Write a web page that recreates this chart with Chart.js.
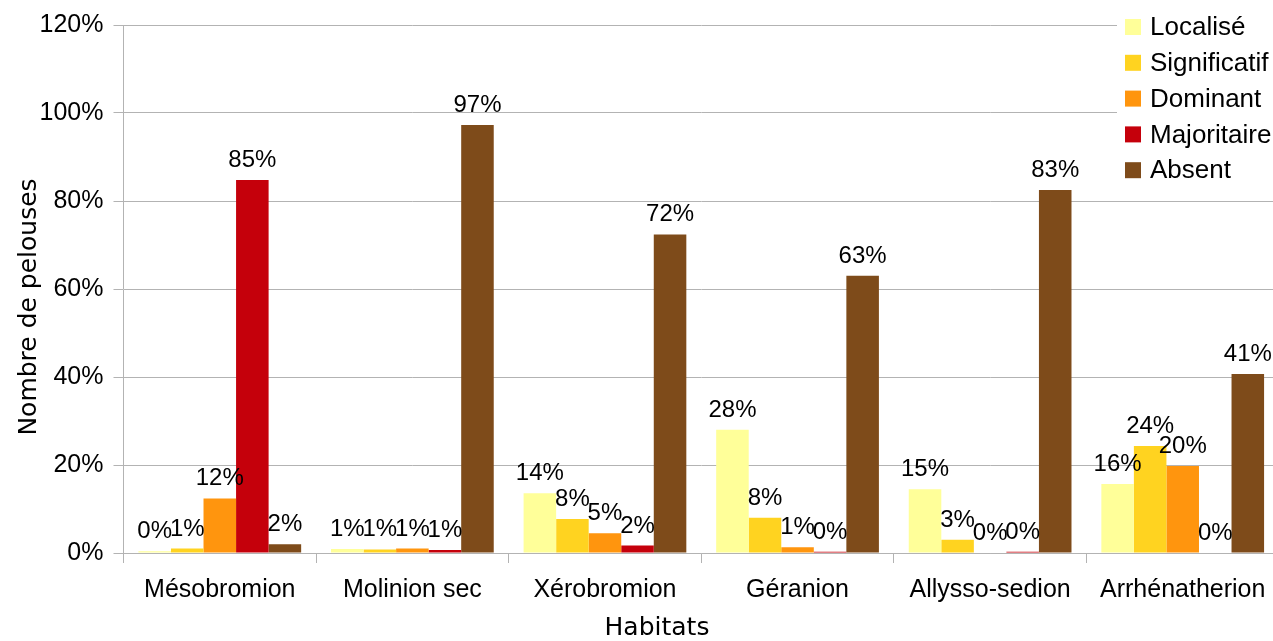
<!DOCTYPE html>
<html>
<head>
<meta charset="utf-8">
<script src="https://cdn.jsdelivr.net/npm/chart.js@4"></script>
<style>
  html, body { margin: 0; padding: 0; background: #fff; overflow: hidden; }
  #wrap { width: 1285px; height: 641px; }
</style>
</head>
<body>
<div id="wrap"><canvas id="habitatChart"></canvas></div>
<script>
const habitats = ['Mésobromion', 'Molinion sec', 'Xérobromion', 'Géranion', 'Allysso-sedion', 'Arrhénatherion'];
const seriesNames = ['Localisé', 'Significatif', 'Dominant', 'Majoritaire', 'Absent'];
const localise = [0.4, 0.9, 13.6, 28.0, 14.5, 15.7];
const significatif = [1.0, 0.8, 7.7, 8.0, 3.0, 24.3];
const dominant = [12.4, 1.0, 4.5, 1.3, 0, 19.8];
const majoritaire = [84.8, 0.7, 1.7, 0.3, 0.3, 0];
const absent = [2.0, 97.3, 72.4, 63.0, 82.5, 40.7];
const yTicks = [0, 20, 40, 60, 80, 100, 120];

const seriesColors = ['#ffff99', '#ffd320', '#ff950e', '#c5000b', '#7e4b1a'];
const seriesValues = [localise, significatif, dominant, majoritaire, absent];
const font = 'Liberation Sans, Arial, sans-serif';

const datasets = seriesNames.map((name, i) => ({
  label: name,
  data: seriesValues[i],
  backgroundColor: seriesColors[i],
  borderWidth: 0,
  barPercentage: 1,
  categoryPercentage: 0.845
}));

// value labels above each bar
const valueLabels = {
  id: 'valueLabels',
  afterDatasetsDraw(chart) {
    const ctx = chart.ctx;
    ctx.save();
    ctx.font = '24px ' + font;
    ctx.fillStyle = '#000';
    ctx.textAlign = 'center';
    ctx.textBaseline = 'alphabetic';
    chart.data.datasets.forEach((ds, i) => {
      chart.getDatasetMeta(i).data.forEach((bar, j) => {
        ctx.fillText(Math.round(ds.data[j]) + '%', bar.x, bar.y - 13);
      });
    });
    ctx.restore();
  }
};

// axis titles and legend drawn in the same places as the original
const decorations = {
  id: 'decorations',
  afterDraw(chart) {
    const ctx = chart.ctx;
    ctx.save();
    ctx.fillStyle = '#000';
    ctx.font = '25px DejaVu Sans, sans-serif';
    ctx.textAlign = 'center';
    ctx.textBaseline = 'middle';
    ctx.fillText('Habitats', 657, 628);
    ctx.translate(29, 307);
    ctx.rotate(-Math.PI / 2);
    ctx.fillText('Nombre de pelouses', 0, 0);
    ctx.restore();

    ctx.save();
    ctx.fillStyle = '#fff';
    ctx.fillRect(1117, 4, 170, 186);
    ctx.font = '26px ' + font;
    ctx.textBaseline = 'middle';
    ctx.textAlign = 'left';
    seriesNames.forEach((name, i) => {
      const y = 27 + i * 35.8;
      ctx.fillStyle = seriesColors[i];
      ctx.fillRect(1125, y - 8, 16, 16);
      ctx.fillStyle = '#000';
      ctx.fillText(name, 1150, y + 1);
    });
    ctx.restore();
  }
};

new Chart(document.getElementById('habitatChart'), {
  type: 'bar',
  data: { labels: habitats, datasets: datasets },
  options: {
    responsive: true,
    maintainAspectRatio: false,
    animation: false,
    layout: { padding: { top: 25, right: 6, left: 0, bottom: 0 } },
    plugins: {
      legend: { display: false },
      tooltip: { enabled: false }
    },
    scales: {
      x: {
        afterFit: function(scale) { scale.height = 88; },
        grid: {
          offset: true,
          drawOnChartArea: false,
          drawTicks: true,
          tickLength: 10,
          color: '#b3b3b3'
        },
        border: { color: '#b3b3b3' },
        ticks: {
          color: '#000',
          padding: 12,
          font: { family: font, size: 25 }
        }
      },
      y: {
        min: 0,
        max: 120,
        afterFit: function(scale) { scale.width = 123.5; },
        afterBuildTicks: function(scale) {
          scale.ticks = yTicks.map((v) => ({ value: v }));
        },
        grid: {
          color: '#b3b3b3',
          tickLength: 10
        },
        border: { color: '#b3b3b3' },
        ticks: {
          color: '#000',
          padding: 10,
          font: { family: font, size: 25 },
          callback: function(value) {
            return value + '%';
          }
        }
      }
    }
  },
  plugins: [valueLabels, decorations]
});
</script>
</body>
</html>
